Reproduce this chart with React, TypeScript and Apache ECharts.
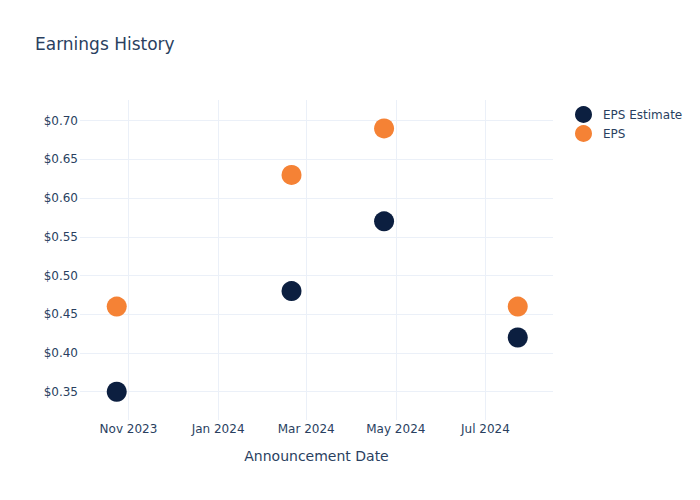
import React, { useEffect, useRef } from "react";
import * as echarts from "echarts";

const dates = ["2023-10-24", "2024-02-20", "2024-04-23", "2024-07-23"];
const epsEstimate = [0.35, 0.48, 0.57, 0.42];
const eps = [0.46, 0.63, 0.69, 0.46];
const yTicks = [0.35, 0.4, 0.45, 0.5, 0.55, 0.6, 0.65, 0.7];
const xTicks = ["2023-11-01", "2024-01-01", "2024-03-01", "2024-05-01", "2024-07-01"];
const months = ["Jan", "Feb", "Mar", "Apr", "May", "Jun", "Jul", "Aug", "Sep", "Oct", "Nov", "Dec"];

const FONT = "DejaVu Sans";
const TEXT = "#2a3f5f";
const GRID = "#ebf0f8";

export default function App() {
  const ref = useRef<HTMLDivElement>(null);
  useEffect(() => {
    const chart = echarts.init(ref.current!, null, { renderer: "svg" });
    const toTs = (d: string) => new Date(d + "T00:00:00").getTime();
    chart.setOption({
      animation: false,
      backgroundColor: "#ffffff",
      textStyle: { fontFamily: FONT },
      title: {
        text: "Earnings History",
        left: 35,
        top: 35,
        padding: 0,
        textStyle: { fontFamily: FONT, fontSize: 17, fontWeight: "normal", color: TEXT },
      },
      legend: {
        orient: "vertical",
        left: 570,
        top: 101,
        itemWidth: 17,
        itemHeight: 17,
        itemGap: 2,
        icon: "circle",
        textStyle: { fontFamily: FONT, fontSize: 12, color: TEXT, padding: [0, 0, 0, 6] },
        data: ["EPS Estimate", "EPS"],
      },
      grid: { left: 80, right: 147, top: 100, bottom: 80 },
      xAxis: {
        type: "time",
        min: toTs("2023-09-29"),
        max: toTs("2024-08-16"),
        name: "Announcement Date",
        nameLocation: "middle",
        nameGap: 29,
        nameTextStyle: { fontFamily: FONT, fontSize: 14, color: TEXT },
        axisLine: { show: false },
        axisTick: { show: false },
        splitLine: { show: false },
        axisLabel: { show: false },
      },
      yAxis: {
        type: "value",
        min: 0.3135,
        max: 0.7267,
        axisLine: { show: false },
        axisTick: { show: false },
        splitLine: { show: false },
        axisLabel: { show: false },
      },
      series: [
        {
          name: "grid-y",
          type: "line",
          data: [],
          silent: true,
          z: 1,
          markLine: {
            silent: true,
            symbol: "none",
            lineStyle: { color: GRID, width: 1, type: "solid" },
            label: {
              show: true,
              position: "start",
              formatter: (p: any) => "$" + Number(p.value).toFixed(2),
              fontFamily: FONT,
              fontSize: 12,
              color: TEXT,
              distance: 2,
            },
            emphasis: { disabled: true },
            data: yTicks.map((v) => ({ yAxis: v })),
          },
        },
        {
          name: "grid-x",
          type: "line",
          data: [],
          silent: true,
          z: 1,
          markLine: {
            silent: true,
            symbol: "none",
            lineStyle: { color: GRID, width: 1, type: "solid" },
            label: {
              show: true,
              position: "start",
              formatter: (p: any) => {
                const d = new Date(p.value);
                return months[d.getMonth()] + " " + d.getFullYear();
              },
              fontFamily: FONT,
              fontSize: 12,
              color: TEXT,
              distance: 3,
            },
            emphasis: { disabled: true },
            data: xTicks.map((d) => ({ xAxis: toTs(d) })),
          },
        },
        {
          name: "EPS Estimate",
          type: "scatter",
          symbolSize: 20,
          itemStyle: { color: "#0c1f40", opacity: 1 },
          data: dates.map((d, i) => [toTs(d), epsEstimate[i]]),
          z: 5,
        },
        {
          name: "EPS",
          type: "scatter",
          symbolSize: 20,
          itemStyle: { color: "#f58235", opacity: 1 },
          data: dates.map((d, i) => [toTs(d), eps[i]]),
          z: 5,
        },
      ],
    });
    return () => chart.dispose();
  }, []);
  return <div ref={ref} style={{ width: 700, height: 500, position: "absolute", left: 0, top: 0 }} />;
}
